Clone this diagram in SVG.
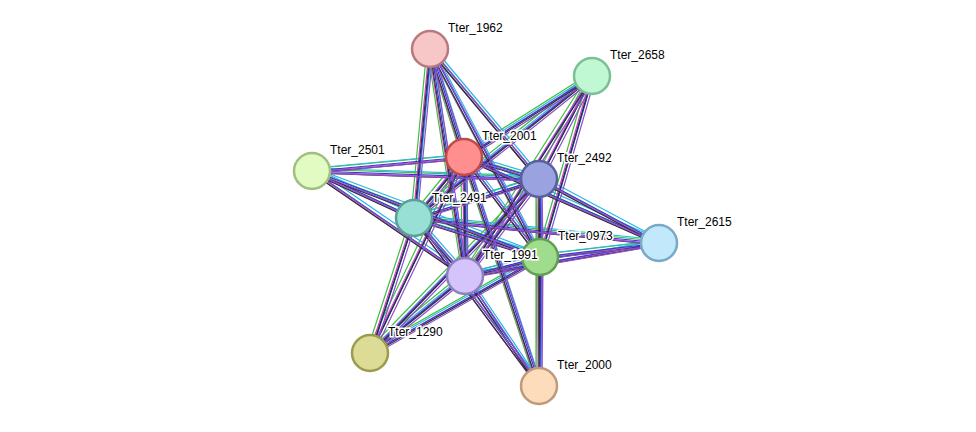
<svg xmlns="http://www.w3.org/2000/svg" xmlns:xlink="http://www.w3.org/1999/xlink" width="976" height="432" viewBox="0 0 976 432">
<style>
.e{fill:none;stroke-width:1.2}
.n circle{stroke-width:2.5}
text{font-family:"Liberation Sans",Arial,sans-serif;font-size:12px;fill:#000;stroke:#fff;stroke-width:3;paint-order:stroke}
</style>
<defs>
<path id="E" d="M430 49L464 157M430 49L539 179M430 49L414 218M430 49L465 276M430 49L540 257
M592 76L464 157M592 76L539 179M592 76L414 218M592 76L465 276M592 76L540 257
M464 157L312 171M464 157L539 179M464 157L414 218M464 157L465 276M464 157L540 257M464 157L659 243M464 157L539 386M464 157L370 353
M539 179L312 171M539 179L414 218M539 179L465 276M539 179L540 257M539 179L659 243M539 179L539 386M539 179L370 353
M312 171L414 218M312 171L465 276M312 171L540 257
M414 218L465 276M414 218L540 257M414 218L659 243M414 218L370 353M414 218L539 386
M465 276L540 257M465 276L659 243M465 276L370 353M465 276L539 386
M540 257L659 243M540 257L539 386M540 257L370 353"/>
</defs>
<g id="connectors">
<use xlink:href="#E" href="#E" class="e" stroke="#3cc03c" transform="translate(-3,-2)"/>
<use xlink:href="#E" href="#E" class="e" stroke="#28b8e0" transform="translate(2,-3)"/>
<use xlink:href="#E" href="#E" class="e" stroke="#d040d0" transform="translate(-1,1)"/>
<use xlink:href="#E" href="#E" class="e" stroke="#3434e0" transform="translate(1,0)"/>
<use xlink:href="#E" href="#E" class="e" stroke="#303030" transform="translate(0,2)"/>
<use xlink:href="#E" href="#E" class="e" stroke="#8a50c8" transform="translate(3,2)"/>
</g>
<g id="n1962" class="n"><circle cx="430" cy="49" r="18" fill="#f7c6c6" stroke="#b87a80"/><text x="448" y="32">Tter_1962</text></g>
<g id="n2658" class="n"><circle cx="592" cy="76" r="18" fill="#c0f8d4" stroke="#7cbf95"/><text x="610" y="59">Tter_2658</text></g>
<g id="n2501" class="n"><circle cx="312" cy="171" r="18" fill="#e2fbc2" stroke="#a0c080"/><text x="330" y="154">Tter_2501</text></g>
<g id="n2615" class="n"><circle cx="659" cy="243" r="18" fill="#c2e8fb" stroke="#78aac8"/><text x="677" y="226">Tter_2615</text></g>
<g id="n1290" class="n"><circle cx="370" cy="353" r="18" fill="#dcdc96" stroke="#9c9c50"/><text x="388" y="336">Tter_1290</text></g>
<g id="n2000" class="n"><circle cx="539" cy="386" r="18" fill="#fddcbc" stroke="#c09a78"/><text x="557" y="369">Tter_2000</text></g>
<g id="n2001" class="n"><circle cx="464" cy="157" r="18" fill="#ff8f8f" stroke="#c04a4a"/><text x="482" y="140">Tter_2001</text></g>
<g id="n2492" class="n"><circle cx="539" cy="179" r="18" fill="#9aa3e0" stroke="#5860a0"/><text x="557" y="162">Tter_2492</text></g>
<g id="n2491" class="n"><circle cx="414" cy="218" r="18" fill="#98e0d6" stroke="#5aa098"/><text x="432" y="202">Tter_2491</text></g>
<g id="n0973" class="n"><circle cx="540" cy="257" r="18" fill="#9fdc8e" stroke="#60a050"/><text x="558" y="240">Tter_0973</text></g>
<g id="n1991" class="n"><circle cx="465" cy="276" r="18" fill="#d4c4fb" stroke="#9080c0"/><text x="483" y="259">Tter_1991</text></g>
</svg>
